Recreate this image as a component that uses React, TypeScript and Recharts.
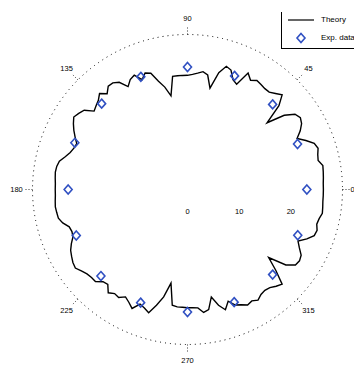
import React from 'react';
import { RadarChart, Radar, PolarAngleAxis, PolarRadiusAxis, Legend } from 'recharts';

// angle categories (degrees)
const ANGLES = [
  0, 2.5, 5, 7.5, 10, 12.5, 15, 17.5, 20, 22.5, 25, 27.5, 30, 32.5, 35, 37.5, 40, 42.5,
  45, 47.5, 50, 52.5, 55, 57.5, 60, 62.5, 65, 67.5, 70, 72.5, 75, 77.5, 80, 82.5, 85, 87.5,
  90, 92.5, 95, 97.5, 100, 102.5, 105, 107.5, 110, 112.5, 115, 117.5, 120, 122.5, 125, 127.5, 130, 132.5,
  135, 137.5, 140, 142.5, 145, 147.5, 150, 152.5, 155, 157.5, 160, 162.5, 165, 167.5, 170, 172.5, 175, 177.5,
  180, 182.5, 185, 187.5, 190, 192.5, 195, 197.5, 200, 202.5, 205, 207.5, 210, 212.5, 215, 217.5, 220, 222.5,
  225, 227.5, 230, 232.5, 235, 237.5, 240, 242.5, 245, 247.5, 250, 252.5, 255, 257.5, 260, 262.5, 265, 267.5,
  270, 272.5, 275, 277.5, 280, 282.5, 285, 287.5, 290, 292.5, 295, 297.5, 300, 302.5, 305, 307.5, 310, 312.5,
  315, 317.5, 320, 322.5, 325, 327.5, 330, 332.5, 335, 337.5, 340, 342.5, 345, 347.5, 350, 352.5, 355, 357.5,
];

// simulated curve (radius)
const SIM = [
  26.3, 26.3, 26.4, 26.5, 26.6, 25.9, 26.1, 26.5, 26.1, 24.8, 23.4, 24.6, 25.5, 25.9, 25.4, 23.6, 20.1, 24.0,
  25.9, 25.2, 24.6, 24.6, 24.8, 25.0, 24.4, 25.4, 22.5, 23.0, 24.6, 25.0, 23.4, 20.1, 22.5, 23.0, 22.6, 22.3,
  22.1, 22.1, 22.1, 22.1, 18.4, 20.3, 21.7, 23.6, 24.0, 23.0, 24.4, 24.0, 23.0, 24.6, 25.2, 25.2, 24.2, 25.2,
  24.4, 24.0, 23.6, 25.2, 25.7, 26.1, 25.5, 24.8, 24.0, 23.2, 23.4, 23.8, 24.5, 25.4, 25.7, 25.8, 25.7, 25.6,
  25.6, 25.6, 25.7, 25.8, 25.7, 25.6, 25.0, 24.0, 23.8, 24.0, 24.8, 25.5, 25.9, 26.3, 26.5, 25.9, 25.4, 25.2,
  25.2, 24.2, 24.0, 25.2, 24.6, 24.8, 24.0, 24.6, 25.4, 24.0, 24.4, 25.0, 23.2, 21.3, 18.4, 22.6, 22.8, 22.8,
  22.9, 22.9, 23.0, 24.0, 23.6, 21.3, 23.2, 24.4, 23.0, 24.2, 24.6, 25.2, 24.9, 25.4, 24.8, 24.6, 24.8, 25.4,
  25.9, 23.2, 20.5, 24.0, 25.5, 25.7, 25.4, 24.4, 23.6, 25.0, 26.1, 26.3, 25.9, 26.1, 26.5, 26.4, 26.3, 26.3,
];

// experimental points
const EXP_ANGLES = [0, 22.5, 45, 67.5, 90, 112.5, 135, 157.5, 180, 202.5, 225, 247.5, 270, 292.5, 315, 337.5];
const EXP_VALUES = [23.1, 23.05, 23.3, 23.8, 23.7, 23.6, 23.5, 23.6, 23.1, 23.3, 23.7, 23.7, 23.7, 23.6, 23.3, 23.1];

const ANGLE_LABELS = [0, 45, 90, 135, 180, 225, 270, 315];
const RADIUS_DOMAIN = [0, 30];
const RADIUS_LABELS = [0, 10, 20];

const SERIES_NAMES = { sim: 'Theory', exp: 'Exp. data' };

const data = ANGLES.map((a, i) => {
  const k = EXP_ANGLES.indexOf(a);
  return { angle: a, sim: SIM[i], exp: k >= 0 ? EXP_VALUES[k] : null };
});

const CX = 187.5;
const CY = 189.5;
const OUTER = 155;
const FONT = '"Liberation Sans", Arial, sans-serif';
const BLUE = '#3050c2';
// half a category step: the category axis puts points at band edges
const HALF_STEP = 360 / ANGLES.length;

const AngleTick = (props: any) => {
  const { payload } = props;
  const v = Number(payload?.value);
  if (!ANGLE_LABELS.includes(v)) return null;
  const rad = (v * Math.PI) / 180;
  const ux = Math.cos(rad);
  const uy = -Math.sin(rad);
  const lr = v === 0 ? 163 : 171;
  return (
    <g>
      <line x1={CX + ux * OUTER} y1={CY + uy * OUTER} x2={CX + ux * 163} y2={CY + uy * 163} stroke="#000" strokeWidth={0.8} strokeDasharray="1 2" />
      <text x={CX + ux * lr + (v === 0 ? 2 : 0)} y={CY + uy * lr} textAnchor="middle" dominantBaseline="central" fontSize={7.5} fontFamily={FONT} fill="#000">
        {v}
      </text>
    </g>
  );
};

const RadiusTick = (props: any) => {
  const { x, y, payload } = props;
  const v = Number(payload?.value);
  if (!RADIUS_LABELS.includes(v)) return null;
  return (
    <text x={x} y={y + 22} textAnchor="middle" dominantBaseline="central" fontSize={7.5} fontFamily={FONT} fill="#000">
      {v}
    </text>
  );
};

const DiamondDot = (props: any) => {
  const { cx, cy } = props;
  const p = props.payload;
  const v = p && p.payload ? p.payload.exp : p ? p.exp ?? p.value : null;
  if (v == null || !Number.isFinite(cx) || !Number.isFinite(cy)) return null;
  return (
    <path
      d={`M${cx},${cy - 4.5}L${cx + 4},${cy}L${cx},${cy + 4.5}L${cx - 4},${cy}Z`}
      fill="none"
      stroke={BLUE}
      strokeWidth={1.6}
    />
  );
};

const LegendContent = (props: any) => {
  const items: any[] = props.payload || [];
  const simItem = items.find((e) => e.dataKey === 'sim');
  const expItem = items.find((e) => e.dataKey === 'exp');
  return (
    <div
      style={{
        position: 'relative',
        width: 73,
        height: 37,
        borderLeft: '1px solid #000',
        borderBottom: '1.5px solid #000',
        overflow: 'hidden',
        fontFamily: FONT,
        fontSize: 8,
        color: '#000',
        boxSizing: 'border-box',
      }}
    >
      <svg width={40} height={37} style={{ position: 'absolute', left: 0, top: 0 }}>
        <line x1={6} y1={8} x2={32} y2={8} stroke="#000" strokeWidth={1.2} />
        <path d="M19,21.5L23,26L19,30.5L15,26Z" fill="none" stroke={BLUE} strokeWidth={1.6} />
      </svg>
      <span style={{ position: 'absolute', left: 39, top: 2, whiteSpace: 'nowrap', lineHeight: '12px' }}>
        {simItem ? simItem.value : SERIES_NAMES.sim}
      </span>
      <span style={{ position: 'absolute', left: 39, top: 20, whiteSpace: 'nowrap', lineHeight: '12px' }}>
        {expItem ? expItem.value : SERIES_NAMES.exp}
      </span>
    </div>
  );
};

export default function App() {
  return (
    <div style={{ position: 'absolute', left: 0, top: 0, width: 354, height: 370, overflow: 'hidden', background: '#fff' }}>
      <RadarChart
        width={354}
        height={370}
        data={data}
        cx={CX}
        cy={CY}
        outerRadius={OUTER}
        startAngle={-HALF_STEP}
        endAngle={360 - HALF_STEP}
        margin={{ top: 0, right: 0, bottom: 0, left: 0 }}
      >
        <PolarAngleAxis
          dataKey="angle"
          type="category"
          axisLineType="circle"
          axisLine={{ stroke: '#000', strokeWidth: 1, strokeDasharray: '1 4' }}
          tickLine={false}
          tickSize={9}
          tick={<AngleTick />}
        />
        <PolarRadiusAxis
          angle={0}
          type="number"
          domain={RADIUS_DOMAIN}
          tickCount={4}
          axisLine={false}
          tickLine={false}
          tick={<RadiusTick />}
        />
        <Radar
          name={SERIES_NAMES.sim}
          dataKey="sim"
          stroke="#000"
          strokeWidth={1.4}
          fill="none"
          fillOpacity={0}
          dot={false}
          legendType="line"
          isAnimationActive={false}
        />
        <Radar
          name={SERIES_NAMES.exp}
          dataKey="exp"
          stroke="none"
          fill="none"
          fillOpacity={0}
          dot={<DiamondDot />}
          legendType="diamond"
          isAnimationActive={false}
        />
        <Legend
          layout="vertical"
          align="right"
          verticalAlign="top"
          content={<LegendContent />}
          wrapperStyle={{ position: 'absolute', left: 281, top: 12, width: 73, height: 38 }}
        />
      </RadarChart>
    </div>
  );
}
